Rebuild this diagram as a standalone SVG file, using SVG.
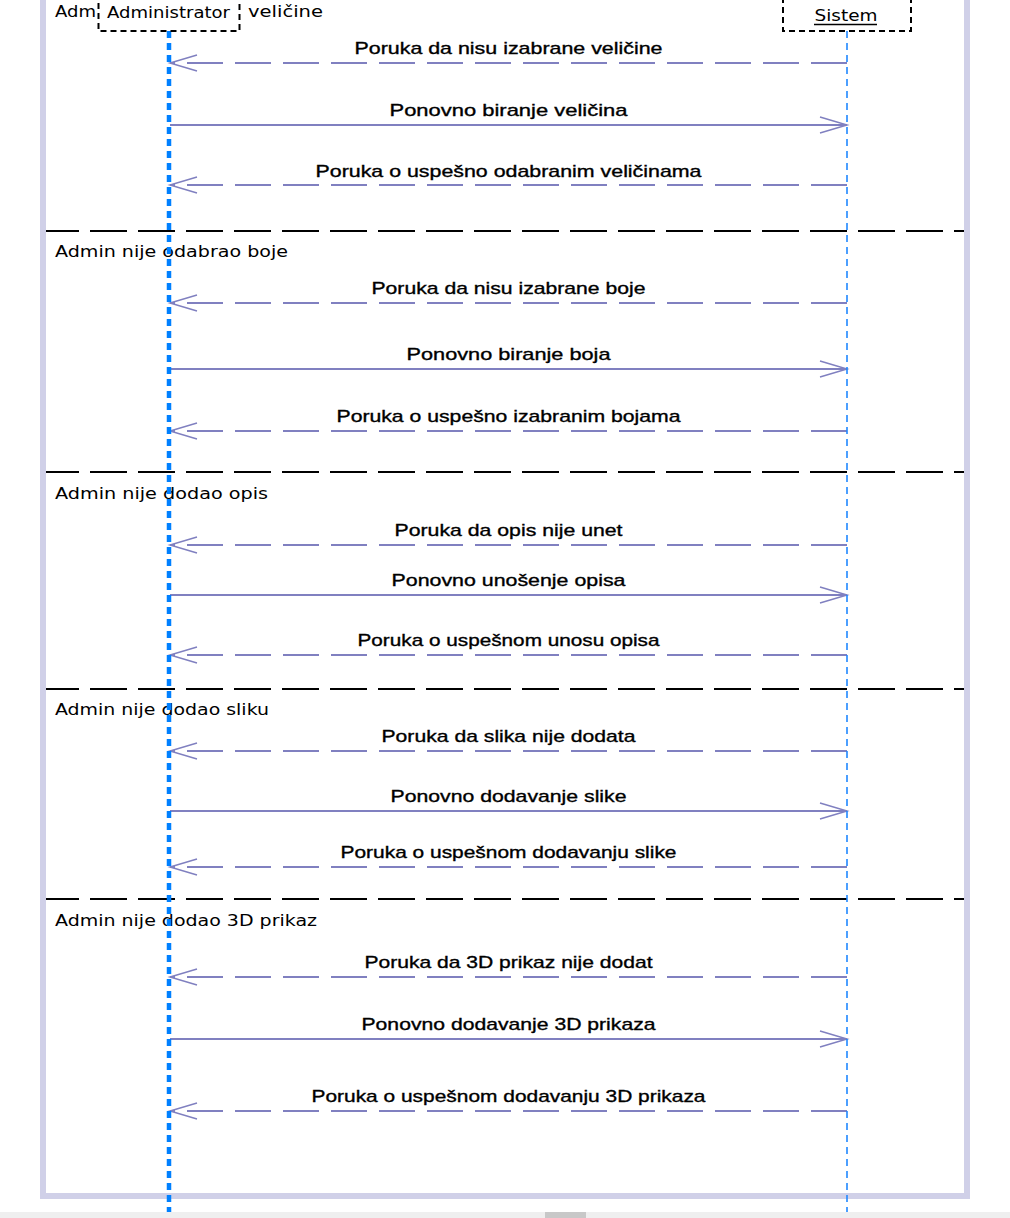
<svg xmlns="http://www.w3.org/2000/svg" width="1010" height="1218" viewBox="0 0 1010 1218">
<style>
  .frame { fill: #d0d0e8; }
  .sep { stroke: #000; stroke-width: 2; stroke-dasharray: 37 11; fill: none; }
  .flab { font-family: "DejaVu Sans", Verdana, sans-serif; font-size: 15px; fill: #000; }
  .mlab { font-family: "Liberation Sans", Arial, sans-serif; font-size: 17px; fill: #000; stroke: #000; stroke-width: 0.35; text-anchor: middle; }
  .call { stroke: #8080c0; stroke-width: 2; fill: none; marker-end: url(#open); }
  .ret { stroke: #8080c0; stroke-width: 2; fill: none; stroke-dasharray: 36 12; marker-end: url(#open); }
  .head { fill: #fff; stroke: #000; stroke-width: 2; stroke-dasharray: 6 4; }
  .hlab { font-family: "DejaVu Sans", Verdana, sans-serif; font-size: 15px; fill: #000; text-anchor: middle; }
  .lifeA { stroke: #0080ff; stroke-width: 4.5; stroke-dasharray: 7 5; fill: none; }
  .lifeS { stroke: #2088ff; stroke-width: 1.6; stroke-dasharray: 7 5; fill: none; }
</style>
<defs>
  <marker id="open" markerUnits="userSpaceOnUse" orient="auto" refX="0" refY="0" markerWidth="30" markerHeight="20" overflow="visible">
    <path d="M-27,-8 L0,0 L-27,8" fill="none" stroke="#8080c0" stroke-width="1.5" stroke-dasharray="none"/>
  </marker>
</defs>
<rect x="0" y="0" width="1010" height="1218" fill="#fff"/>

<g id="fragments">
  <path class="sep" d="M42,231 H964"/>
  <path class="sep" d="M42,472 H964"/>
  <path class="sep" d="M42,689 H964"/>
  <path class="sep" d="M42,899 H964"/>
  <text class="flab" x="55" y="17" textLength="41" lengthAdjust="spacingAndGlyphs">Adm</text>
  <text class="flab" x="248" y="17" textLength="75" lengthAdjust="spacingAndGlyphs">veličine</text>
  <text class="flab" x="55" y="257" textLength="233" lengthAdjust="spacingAndGlyphs">Admin nije odabrao boje</text>
  <text class="flab" x="55" y="499" textLength="213" lengthAdjust="spacingAndGlyphs">Admin nije dodao opis</text>
  <text class="flab" x="55" y="715" textLength="214" lengthAdjust="spacingAndGlyphs">Admin nije dodao sliku</text>
  <text class="flab" x="55" y="926" textLength="262" lengthAdjust="spacingAndGlyphs">Admin nije dodao 3D prikaz</text>
</g>

<g id="frame">
  <rect class="frame" x="40" y="0" width="6" height="1199"/>
  <rect class="frame" x="964" y="0" width="6" height="1199"/>
  <rect class="frame" x="40" y="1193" width="930" height="6"/>
</g>

<g id="connectors">
  <path class="ret" d="M847,63 H170"/>
  <text class="mlab" x="508.5" y="54" textLength="308" lengthAdjust="spacingAndGlyphs">Poruka da nisu izabrane veličine</text>
  <path class="call" d="M170,125 H847"/>
  <text class="mlab" x="508.5" y="116" textLength="238" lengthAdjust="spacingAndGlyphs">Ponovno biranje veličina</text>
  <path class="ret" d="M847,185 H170"/>
  <text class="mlab" x="508.5" y="177" textLength="386" lengthAdjust="spacingAndGlyphs">Poruka o uspešno odabranim veličinama</text>

  <path class="ret" d="M847,303 H170"/>
  <text class="mlab" x="508.5" y="294" textLength="274" lengthAdjust="spacingAndGlyphs">Poruka da nisu izabrane boje</text>
  <path class="call" d="M170,369 H847"/>
  <text class="mlab" x="508.5" y="360" textLength="204" lengthAdjust="spacingAndGlyphs">Ponovno biranje boja</text>
  <path class="ret" d="M847,431 H170"/>
  <text class="mlab" x="508.5" y="422" textLength="344" lengthAdjust="spacingAndGlyphs">Poruka o uspešno izabranim bojama</text>

  <path class="ret" d="M847,545 H170"/>
  <text class="mlab" x="508.5" y="536" textLength="228" lengthAdjust="spacingAndGlyphs">Poruka da opis nije unet</text>
  <path class="call" d="M170,595 H847"/>
  <text class="mlab" x="508.5" y="586" textLength="234" lengthAdjust="spacingAndGlyphs">Ponovno unošenje opisa</text>
  <path class="ret" d="M847,655 H170"/>
  <text class="mlab" x="508.5" y="646" textLength="302" lengthAdjust="spacingAndGlyphs">Poruka o uspešnom unosu opisa</text>

  <path class="ret" d="M847,751 H170"/>
  <text class="mlab" x="508.5" y="742" textLength="254" lengthAdjust="spacingAndGlyphs">Poruka da slika nije dodata</text>
  <path class="call" d="M170,811 H847"/>
  <text class="mlab" x="508.5" y="802" textLength="236" lengthAdjust="spacingAndGlyphs">Ponovno dodavanje slike</text>
  <path class="ret" d="M847,867 H170"/>
  <text class="mlab" x="508.5" y="858" textLength="336" lengthAdjust="spacingAndGlyphs">Poruka o uspešnom dodavanju slike</text>

  <path class="ret" d="M847,977 H170"/>
  <text class="mlab" x="508.5" y="968" textLength="288" lengthAdjust="spacingAndGlyphs">Poruka da 3D prikaz nije dodat</text>
  <path class="call" d="M170,1039 H847"/>
  <text class="mlab" x="508.5" y="1030" textLength="294" lengthAdjust="spacingAndGlyphs">Ponovno dodavanje 3D prikaza</text>
  <path class="ret" d="M847,1111 H170"/>
  <text class="mlab" x="508.5" y="1102" textLength="394" lengthAdjust="spacingAndGlyphs">Poruka o uspešnom dodavanju 3D prikaza</text>
</g>

<g id="lifelines">
  <path class="lifeA" d="M169,31 V1212"/>
  <path class="lifeS" d="M847,31 V1212"/>
</g>

<g id="Administrator">
  <rect class="head" x="98.5" y="-5" width="141" height="36"/>
  <text class="hlab" x="168.5" y="18" textLength="123" lengthAdjust="spacingAndGlyphs">Administrator</text>
</g>

<g id="Sistem">
  <rect class="head" x="783" y="-5" width="128" height="36"/>
  <text class="hlab" x="846" y="21" textLength="63" lengthAdjust="spacingAndGlyphs">Sistem</text>
  <line x1="814" y1="24.5" x2="877" y2="24.5" stroke="#000" stroke-width="1.5"/>
</g>

<g id="scrollbar">
  <rect x="0" y="1212" width="1010" height="6" fill="#efefef"/>
  <rect x="545" y="1212" width="41" height="6" fill="#c8c8c8"/>
</g>
</svg>
